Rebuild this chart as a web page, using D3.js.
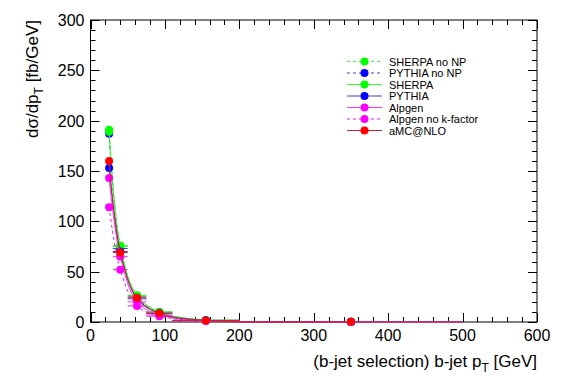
<!DOCTYPE html>
<html>
<head>
<meta charset="utf-8">
<script src="https://cdn.jsdelivr.net/npm/d3@7"></script>
<style>
  body { margin: 0; background: #fff; }
  svg { display: block; font-family: "Liberation Sans", Arial, sans-serif; }
</style>
</head>
<body>
<div class="chart"></div>
<script>
// bin edges in b-jet pT [GeV]
var binLow  = [20, 30, 50, 75, 110, 200];
var binHigh = [30, 50, 75, 110, 200, 500];

// dsigma/dpT [fb/GeV] per bin
var sherpaNoNP = [191, 76, 26.5, 10.2, 1.8, 0.16];
var pythiaNoNP = [187, 73, 25, 9.5, 1.7, 0.14];
var sherpa     = [189, 75, 26, 9.8, 1.7, 0.15];
var pythia     = [153, 70, 23, 8.5, 1.5, 0.13];
var alpgen     = [143, 65, 20, 7.0, 1.3, 0.12];
var alpgenNoK  = [114, 52, 16, 5.8, 1.1, 0.10];
var amcnlo     = [160, 69, 24, 8.6, 1.5, 0.15];
var statErr    = [3, 2, 1.2, 0.6, 0.2, 0.05];

var seriesNames = ["SHERPA no NP", "PYTHIA no NP", "SHERPA", "PYTHIA", "Alpgen", "Alpgen no k-factor", "aMC@NLO"];
var seriesValues = [sherpaNoNP, pythiaNoNP, sherpa, pythia, alpgen, alpgenNoK, amcnlo];
var markerColors = ["#00ff00", "#0000ff", "#00ff00", "#0000ff", "#ff00ff", "#ff00ff", "#ff0000"];
var lineColors   = ["#33ff33", "#4444cc", "#33ff33", "#4444bb", "#ff33ff", "#dd22dd", "#cc2233"];
var dashed       = [true, true, false, false, false, true, false];

var xTicks = [0, 100, 200, 300, 400, 500, 600];
var yTicks = [0, 50, 100, 150, 200, 250, 300];

var W = 567, H = 384;
var margin = { top: 20, right: 30, bottom: 62, left: 90.5 };

var svg = d3.select(".chart").append("svg")
    .attr("width", W)
    .attr("height", H);

var x = d3.scaleLinear().domain([0, 600]).range([margin.left, W - margin.right]);
var y = d3.scaleLinear().domain([0, 300]).range([H - margin.bottom, margin.top]);

var x0 = x(0), x1 = x(600), y0 = y(0), y1 = y(300);

// ticks (ROOT style, pointing inwards, on all four sides)
var tickG = svg.append("g").attr("stroke", "#000").attr("stroke-width", 1);
d3.range(0, 601, 20).forEach(function(v) {
    var len = v % 100 === 0 ? 9 : 5;
    var px = Math.round(x(v)) + 0.5;
    tickG.append("line").attr("x1", px).attr("x2", px).attr("y1", y0).attr("y2", y0 - len);
    tickG.append("line").attr("x1", px).attr("x2", px).attr("y1", y1).attr("y2", y1 + len);
});
d3.range(0, 301, 10).forEach(function(v) {
    var len = v % 50 === 0 ? 9 : 5;
    var py = Math.round(y(v)) + 0.5;
    tickG.append("line").attr("y1", py).attr("y2", py).attr("x1", x0).attr("x2", x0 + len);
    tickG.append("line").attr("y1", py).attr("y2", py).attr("x1", x1).attr("x2", x1 - len);
});

svg.append("rect")
    .attr("x", x0).attr("y", y1)
    .attr("width", x1 - x0).attr("height", y0 - y1)
    .attr("fill", "none").attr("stroke", "#000").attr("stroke-width", 1);

// tick labels
svg.append("g").selectAll("text")
    .data(xTicks)
    .enter().append("text")
    .attr("x", function(d) { return x(d); })
    .attr("y", y0 + 19)
    .attr("text-anchor", "middle")
    .style("font-size", "16px")
    .text(function(d) { return d; });

svg.append("g").selectAll("text")
    .data(yTicks)
    .enter().append("text")
    .attr("x", x0 - 6)
    .attr("y", function(d) { return y(d) + 6; })
    .attr("text-anchor", "end")
    .style("font-size", "16px")
    .text(function(d) { return d; });

// axis titles
var xt = svg.append("text")
    .attr("x", x1)
    .attr("y", 367)
    .attr("text-anchor", "end")
    .style("font-size", "17px");
xt.append("tspan").text("(b-jet selection) b-jet p");
xt.append("tspan").attr("dy", 5).style("font-size", "12px").text("T");
xt.append("tspan").attr("dy", -5).text(" [GeV]");

var yt = svg.append("text")
    .attr("transform", "translate(38," + y1 + ") rotate(-90)")
    .attr("text-anchor", "end")
    .style("font-size", "17px");
yt.append("tspan").text("d\u03c3/dp");
yt.append("tspan").attr("dy", 5).style("font-size", "12px").text("T");
yt.append("tspan").attr("dy", -5).text(" [fb/GeV]");

// data
var centers = binLow.map(function(d, i) { return (d + binHigh[i]) / 2; });

var line = d3.line()
    .x(function(d) { return x(d.x); })
    .y(function(d) { return y(d.y); })
    .curve(d3.curveCatmullRom.alpha(0.5));

var plot = svg.append("g");

seriesValues.forEach(function(vals, s) {
    var g = plot.append("g");
    var pts = vals.map(function(v, i) { return { x: centers[i], y: v, lo: binLow[i], hi: binHigh[i], e: statErr[i] }; });

    g.append("path")
        .datum(pts)
        .attr("d", line)
        .attr("fill", "none")
        .attr("stroke", lineColors[s])
        .attr("stroke-width", 1)
        .attr("stroke-dasharray", dashed[s] ? "3,3" : null);

    g.selectAll(".xerr")
        .data(pts)
        .enter().append("line")
        .attr("x1", function(d) { return x(d.lo); })
        .attr("x2", function(d) { return x(d.hi); })
        .attr("y1", function(d) { return y(d.y); })
        .attr("y2", function(d) { return y(d.y); })
        .attr("stroke", lineColors[s])
        .attr("stroke-width", 1);

    g.selectAll(".yerr")
        .data(pts)
        .enter().append("line")
        .attr("x1", function(d) { return x(d.x); })
        .attr("x2", function(d) { return x(d.x); })
        .attr("y1", function(d) { return y(d.y - d.e); })
        .attr("y2", function(d) { return y(d.y + d.e); })
        .attr("stroke", lineColors[s])
        .attr("stroke-width", 1);

    g.selectAll("circle")
        .data(pts)
        .enter().append("circle")
        .attr("cx", function(d) { return x(d.x); })
        .attr("cy", function(d) { return y(d.y); })
        .attr("r", 4)
        .attr("fill", markerColors[s]);
});

// legend
var legend = svg.selectAll(".legend")
    .data(seriesNames)
    .enter().append("g")
    .attr("class", "legend")
    .attr("transform", function(d, i) { return "translate(347," + (61.5 + i * 11.5) + ")"; });

legend.append("line")
    .attr("x1", 0).attr("x2", 35)
    .attr("stroke", function(d, i) { return lineColors[i]; })
    .attr("stroke-dasharray", function(d, i) { return dashed[i] ? "3,3" : null; });

legend.append("circle")
    .attr("cx", 17.5)
    .attr("r", 4)
    .attr("fill", function(d, i) { return markerColors[i]; });

legend.append("text")
    .attr("x", 42)
    .attr("y", 4)
    .style("font-size", "11px")
    .text(function(d) { return d; });
</script>
</body>
</html>
